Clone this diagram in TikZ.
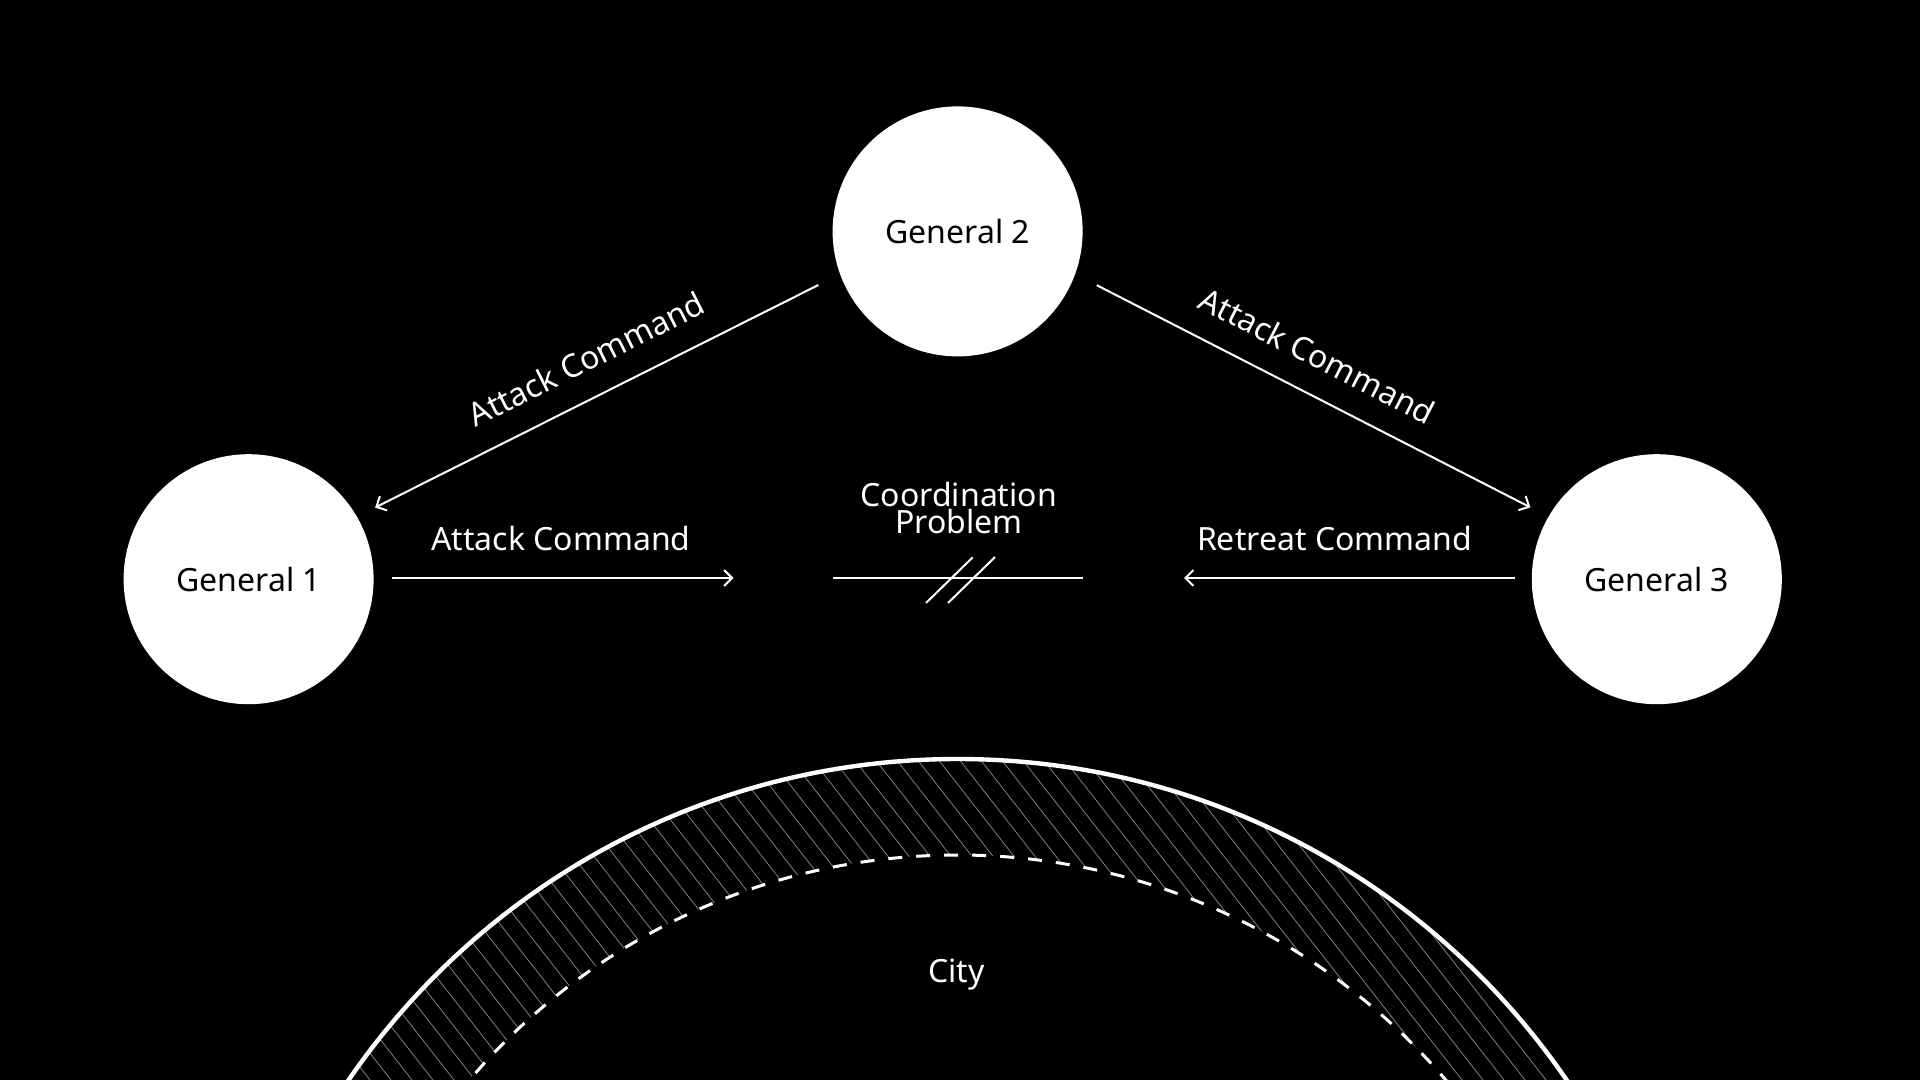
\documentclass[tikz,border=0pt]{standalone}
\usepackage{fontspec}
\setmainfont{Noto Sans}
\usetikzlibrary{calc, arrows.meta, positioning}

\begin{document}
\begin{tikzpicture}[x=0.5pt, y=-0.5pt,
                general/.style={circle, fill=white, text=black, minimum size=125pt, inner sep=0pt, font=\fontsize{16}{19}\selectfont},
                msg/.style={white, line width=1pt, -{Straight Barb[length=4pt, width=8pt]}},
                lbl/.style={text=white, font=\fontsize{16}{19}\selectfont}]
                \fill[black] (0,0) rectangle (1920,1080);
                \useasboundingbox (0,0) rectangle (1920,1080);
                \node[general] (G2) at (957.6,231.4) {General 2};
                \node[general] (G1) at (248.6,579.2) {General 1};
                \node[general] (G3) at (1656.8,579.2) {General 3};
                \coordinate (M1) at (832.6,578);
                \coordinate (M2) at (1082.6,578);
                \coordinate (A) at (733.5,578);
                \coordinate (R) at (1184,578);
                \draw[msg, shorten <=12pt, shorten >=10pt] (G2.200) -- node[lbl, sloped, above=9pt, pos=0.49] {Attack Command} (G1.30);
                \draw[msg, shorten <=12pt, shorten >=10pt] (G2.340) -- node[lbl, sloped, above=9pt, pos=0.475] {Attack Command} (G3.150);
                \draw[msg, shorten <=9pt] (G1.east |- A) -- node[lbl, above=10pt, pos=0.52] {Attack Command} (A);
                \draw[msg, shorten <=8pt] (G3.west |- R) -- node[lbl, above=10pt, pos=0.567] {Retreat Command} (R);
                \draw[white, line width=1pt] (M1) -- (M2);
                \draw[white, line width=1pt] (926,603) -- (972.7,557.3) (948,603) -- (995,557);
                \node[lbl, align=center, font=\fontsize{16}{13.5}\selectfont] (P) at (958.8,508) {Coordination\\Problem};
                % city walls
                \coordinate (C) at (957.6,1497);
                \begin{scope}[even odd rule]
                \clip (C) circle[radius=369pt] (C) circle[radius=321pt];
                \foreach \x in {-400,-379,...,2000}
                    \draw[gray, line width=0.4pt] (\x,740) -- ++(266,340);
                \end{scope}
                \draw[white, line width=2.2pt] (C) circle[radius=369pt];
                \draw[white, line width=1.5pt, dash pattern=on 7pt off 7pt] (C) circle[radius=321pt];
                \node[lbl] (city) at (956.3,975) {City};
            \end{tikzpicture}
\end{document}
